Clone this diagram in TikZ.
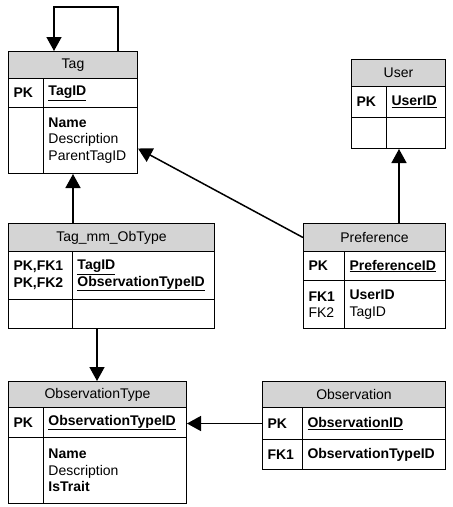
\documentclass[tikz,border=0pt]{standalone}
\usepackage{fontspec}
\setmainfont{Liberation Sans}
\usepackage{tikz}
\usetikzlibrary{arrows.meta}

\definecolor{headgray}{RGB}{212,212,212}
\tikzset{
  cell/.style={draw, line width=1pt, anchor=north west, inner xsep=5pt, inner ysep=0pt,
    align=left, font=\fontsize{14}{16.5}\selectfont},
  head/.style={cell, fill=headgray, align=center},
  link/.style={line width=1.5pt, -{Triangle[length=14pt, width=15pt]}}
}

\begin{document}
\begin{tikzpicture}[x=1pt, y=-1pt]
          \useasboundingbox (0, 0) rectangle (453, 507);
          % Tag
          \node[head, text width=119pt, minimum height=27pt] (taghead) at (8, 51) {Tag};
          \node[cell, text width=25pt, minimum height=29pt] (tagkeyL) at (8, 78) {\textbf{PK}};
          \node[cell, text width=84pt, minimum height=29pt] (tagkeyR) at (43, 78) {\textbf{\underline{TagID}}};
          \node[cell, text width=25pt, minimum height=66pt] (tagbodyL) at (8, 107) {};
          \node[cell, text width=84pt, minimum height=66pt] (tagbodyR) at (43, 107) {\textbf{Name}\\Description\\ParentTagID};
          % Tag_mm_ObType
          \node[head, text width=196pt, minimum height=28pt] (mmhead) at (8, 223) {Tag\_mm\_ObType};
          \node[cell, text width=54pt, minimum height=48pt] (mmkeyL) at (8, 251) {\textbf{PK,FK1}\\\textbf{PK,FK2}};
          \node[cell, text width=132pt, minimum height=48pt] (mmkeyR) at (72, 251) {\textbf{\underline{TagID}}\\\textbf{\underline{ObservationTypeID}}};
          \node[cell, text width=54pt, minimum height=29pt] (mmbodyL) at (8, 299) {};
          \node[cell, text width=132pt, minimum height=29pt] (mmbodyR) at (72, 299) {};
          % User
          \node[head, text width=84pt, minimum height=27pt] (userhead) at (351, 59) {User};
          \node[cell, text width=25pt, minimum height=31pt] (userkeyL) at (351, 86) {\textbf{PK}};
          \node[cell, text width=49pt, minimum height=31pt] (userkeyR) at (386, 86) {\textbf{\underline{UserID}}};
          \node[cell, text width=25pt, minimum height=31pt] (userbodyL) at (351, 117) {};
          \node[cell, text width=49pt, minimum height=31pt] (userbodyR) at (386, 117) {};
          % Preference
          \node[head, text width=132pt, minimum height=28pt] (prefhead) at (303, 223) {Preference};
          \node[cell, text width=31pt, minimum height=29pt] (prefkeyL) at (303, 251) {\textbf{PK}};
          \node[cell, text width=91pt, minimum height=29pt] (prefkeyR) at (344, 251) {\textbf{\underline{PreferenceID}}};
          \node[cell, text width=31pt, minimum height=48pt] (prefbodyL) at (303, 280) {\textbf{FK1}\\FK2};
          \node[cell, text width=91pt, minimum height=48pt] (prefbodyR) at (344, 280) {\textbf{UserID}\\TagID};
          % ObservationType
          \node[head, text width=168pt, minimum height=26pt] (othead) at (8, 381) {ObservationType};
          \node[cell, text width=25pt, minimum height=30pt] (otkeyL) at (8, 407) {\textbf{PK}};
          \node[cell, text width=133pt, minimum height=30pt] (otkeyR) at (43, 407) {\textbf{\underline{ObservationTypeID}}};
          \node[cell, text width=25pt, minimum height=66pt] (otbodyL) at (8, 437) {};
          \node[cell, text width=133pt, minimum height=66pt] (otbodyR) at (43, 437) {\textbf{Name}\\Description\\\textbf{IsTrait}};
          % Observation
          \node[head, text width=173pt, minimum height=26pt] (obshead) at (262, 381) {Observation};
          \node[cell, text width=30pt, minimum height=32pt] (obskeyL) at (262, 407) {\textbf{PK}};
          \node[cell, text width=133pt, minimum height=32pt] (obskeyR) at (302, 407) {\textbf{\underline{ObservationID}}};
          \node[cell, text width=30pt, minimum height=30pt] (obsbodyL) at (262, 439) {\textbf{FK1}};
          \node[cell, text width=133pt, minimum height=30pt] (obsbodyR) at (302, 439) {\textbf{ObservationTypeID}};
          %
          \draw[link] ([xshift=-20pt]taghead.north east) -- ++(0, -44) -| ([xshift=46pt]taghead.north west);
          \draw[link] ([xshift=65pt]mmhead.north west) -- ([xshift=30pt]tagbodyR.south west);
          \draw[link] ([xshift=25pt]mmbodyR.south west) -- ([xshift=89pt]othead.north west);
          \draw[link] (prefhead.west) -- ([yshift=-8pt]tagbodyR.east);
          \draw[link] ([xshift=-47pt]prefhead.north east) -- ([xshift=-47pt]userbodyR.south east);
          \draw[link] (obskeyL.west) -- (obskeyL.west -| otkeyR.east);
        \end{tikzpicture}
\end{document}
